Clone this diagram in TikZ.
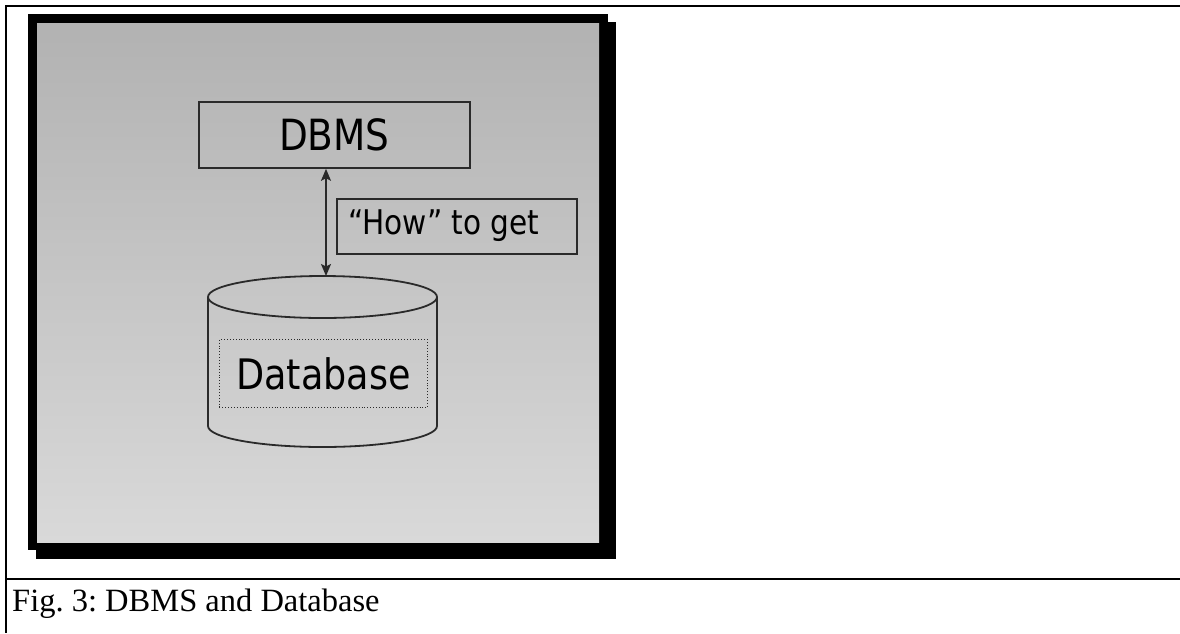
\documentclass[tikz,border=0pt]{standalone}
\usepackage{fontspec}
\usetikzlibrary{arrows.meta}
\setmainfont{Liberation Serif}
\newfontfamily\dvs{DejaVu Sans}
\definecolor{linegray}{HTML}{2A2A2A}
\definecolor{topgray}{HTML}{B2B2B2}
\definecolor{botgray}{HTML}{D9D9D9}
\tikzset{
  rule/.style={line width=2.2pt, black},
  boxline/.style={draw=linegray, line width=1.8pt},
  sanslabel/.style={font=\dvs, text=black},
  arr/.style={linegray, line width=1.5pt, {Stealth[length=12pt,width=10pt,inset=2.5pt]}-{Stealth[length=12pt,width=10pt,inset=2.5pt]}},
}
\begin{document}
\begin{tikzpicture}[x=1pt,y=-1pt]
\useasboundingbox (0,0) rectangle (1180,633);
% outer table rules
\draw[rule] (6,5) -- (6,633);
\draw[rule] (5,6) -- (1180,6);
\draw[rule] (5,579) -- (1180,579);
% framed slide with shadow
\fill[black] (36,22) rectangle (616,559);
\fill[black] (28,14) rectangle (608,550);
\shade[top color=topgray, bottom color=botgray] (37,23) rectangle (599,542);
% DBMS box
\node[boxline, minimum width=271pt, minimum height=66pt, inner sep=0pt, anchor=north west] (dbms) at (198,101) {};
\node[sanslabel, anchor=center] (dbmstext) at (dbms.center) {\scalebox{0.87}[1]{\fontsize{43}{43}\selectfont DBMS}};
% How box
\node[boxline, minimum width=240pt, minimum height=55pt, inner sep=0pt, anchor=north west] (how) at (336,198) {};
\node[sanslabel, anchor=west, inner sep=0pt] (howtext) at ([xshift=12pt,yshift=1pt]how.west) {\scalebox{0.87}[1]{\fontsize{34}{34}\selectfont “How” to get}};
% cylinder
\coordinate (cyltop) at (326,276);
\draw[linegray, line width=1.8pt] (208,297) -- (208,426) arc[start angle=180, end angle=360, x radius=114.5pt, y radius=21pt] -- (437,297);
\draw[linegray, line width=1.8pt] (322.5,297) ellipse[x radius=114.5pt, y radius=21pt];
% dotted box
\node[draw=linegray, dotted, line width=0.9pt, minimum width=208pt, minimum height=68pt, inner sep=0pt, anchor=north west] (dbbox) at (219,339) {};
\node[sanslabel] (dbtext) at (dbbox.center) {\scalebox{0.87}[1]{\fontsize{42}{42}\selectfont Database}};
% arrow
\draw[arr] (dbms.south -| cyltop) -- (cyltop);
% caption
\node[anchor=base west, inner sep=0pt, font=\fontsize{32.5}{32.5}\selectfont] (cap) at (12,611) {\frenchspacing Fig. 3: DBMS and Database};
\end{tikzpicture}
\end{document}
